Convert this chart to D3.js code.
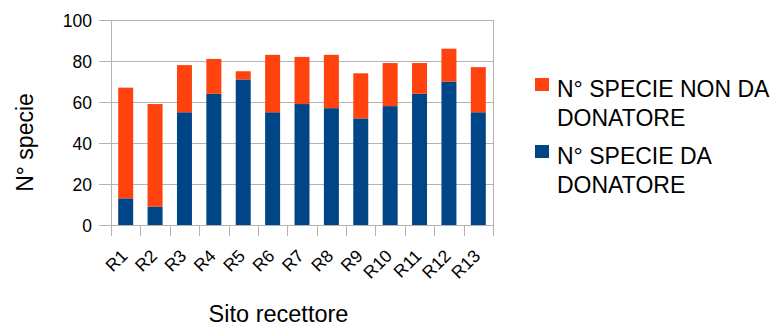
<!DOCTYPE html>
<html>
<head>
<meta charset="utf-8">
<script src="https://cdn.jsdelivr.net/npm/d3@7"></script>
<style>
  html, body { margin: 0; padding: 0; background: #fff; }
  text { font-family: "Liberation Sans", Arial, sans-serif; fill: #000; }
</style>
</head>
<body>
<svg id="chart" width="782" height="326"></svg>
<script>
const categories = ["R1","R2","R3","R4","R5","R6","R7","R8","R9","R10","R11","R12","R13"];
const daDonatore = [13, 9, 55, 64, 71, 55, 59, 57, 52, 58, 64, 70, 55];
const nonDaDonatore = [54, 50, 23, 17, 4, 28, 23, 26, 22, 21, 15, 16, 22];
const yTicks = [0, 20, 40, 60, 80, 100];
const seriesNames = ["N° SPECIE DA DONATORE", "N° SPECIE NON DA DONATORE"];
const legendLines = [["N° SPECIE NON DA", "DONATORE"], ["N° SPECIE DA", "DONATORE"]];
const colors = ["#004586", "#ff420e"];

const svg = d3.select("#chart");
const pLeft = 111, pRight = 493, pTop = 20, pBottom = 225;
const gridColor = "#b3b3b3";

const x = d3.scaleBand().domain(categories).range([pLeft, pRight]).paddingInner(0.49).paddingOuter(0.245);
const xb = d3.scaleBand().domain(categories).range([pLeft, pRight]);
const y = d3.scaleLinear().domain([0, 100]).range([pBottom, pTop]);

// grid lines
svg.append("g").selectAll("line").data(yTicks).join("line")
  .attr("x1", pLeft - 12).attr("x2", pRight)
  .attr("y1", d => Math.round(y(d)) + 0.5).attr("y2", d => Math.round(y(d)) + 0.5)
  .attr("stroke", gridColor).attr("stroke-width", 1);

// right border
svg.append("line").attr("x1", pRight + 0.5).attr("x2", pRight + 0.5)
  .attr("y1", pTop).attr("y2", pBottom + 11).attr("stroke", gridColor);

// stacked data
const data = categories.map((c, i) => ({cat: c, da: daDonatore[i], non: nonDaDonatore[i]}));
const stack = d3.stack().keys(["da", "non"])(data);

svg.append("g").selectAll("g").data(stack).join("g")
  .attr("fill", (d, i) => colors[i])
  .selectAll("rect").data(d => d).join("rect")
  .attr("x", d => x(d.data.cat))
  .attr("width", x.bandwidth())
  .attr("y", d => y(d[1]))
  .attr("height", d => y(d[0]) - y(d[1]));

// x axis ticks at band boundaries
const bounds = categories.map(c => xb(c)).concat([pRight]);
svg.append("g").selectAll("line").data(bounds).join("line")
  .attr("x1", d => Math.round(d) + 0.5).attr("x2", d => Math.round(d) + 0.5)
  .attr("y1", pBottom).attr("y2", pBottom + 11)
  .attr("stroke", gridColor);

// left axis line
svg.append("line").attr("x1", pLeft + 0.5).attr("x2", pLeft + 0.5)
  .attr("y1", pTop).attr("y2", pBottom + 11).attr("stroke", gridColor);

// y tick labels
svg.append("g").selectAll("text").data(yTicks).join("text")
  .attr("x", 92).attr("y", d => y(d) + 6.5)
  .attr("text-anchor", "end").attr("font-size", 17.5)
  .text(d => d);

// x tick labels
svg.append("g").selectAll("text").data(categories).join("text")
  .attr("text-anchor", "end").attr("font-size", 17.5)
  .attr("transform", d => `translate(${xb(d) + xb.bandwidth() / 2 + 3},${257}) rotate(-45)`)
  .text(d => d);

// axis titles
svg.append("text").attr("x", (pLeft + pRight) / 2 - 23.5).attr("y", 322)
  .attr("text-anchor", "middle").attr("font-size", 23.5).text("Sito recettore");
svg.append("text").attr("transform", `translate(33,${(pTop + pBottom) / 2 + 20}) rotate(-90)`)
  .attr("text-anchor", "middle").attr("font-size", 23).text("N° specie");

// legend
const legendOrder = [1, 0];
const lg = svg.append("g");
legendOrder.forEach((si, k) => {
  const baseY = 97 + k * 67;
  lg.append("rect").attr("x", 535).attr("y", baseY - 19).attr("width", 14).attr("height", 13)
    .attr("fill", colors[si]);
  legendLines[k].forEach((line, j) => {
    lg.append("text").attr("x", 557).attr("y", baseY + j * 29)
      .attr("font-size", 23).text(line);
  });
});
</script>
</body>
</html>
